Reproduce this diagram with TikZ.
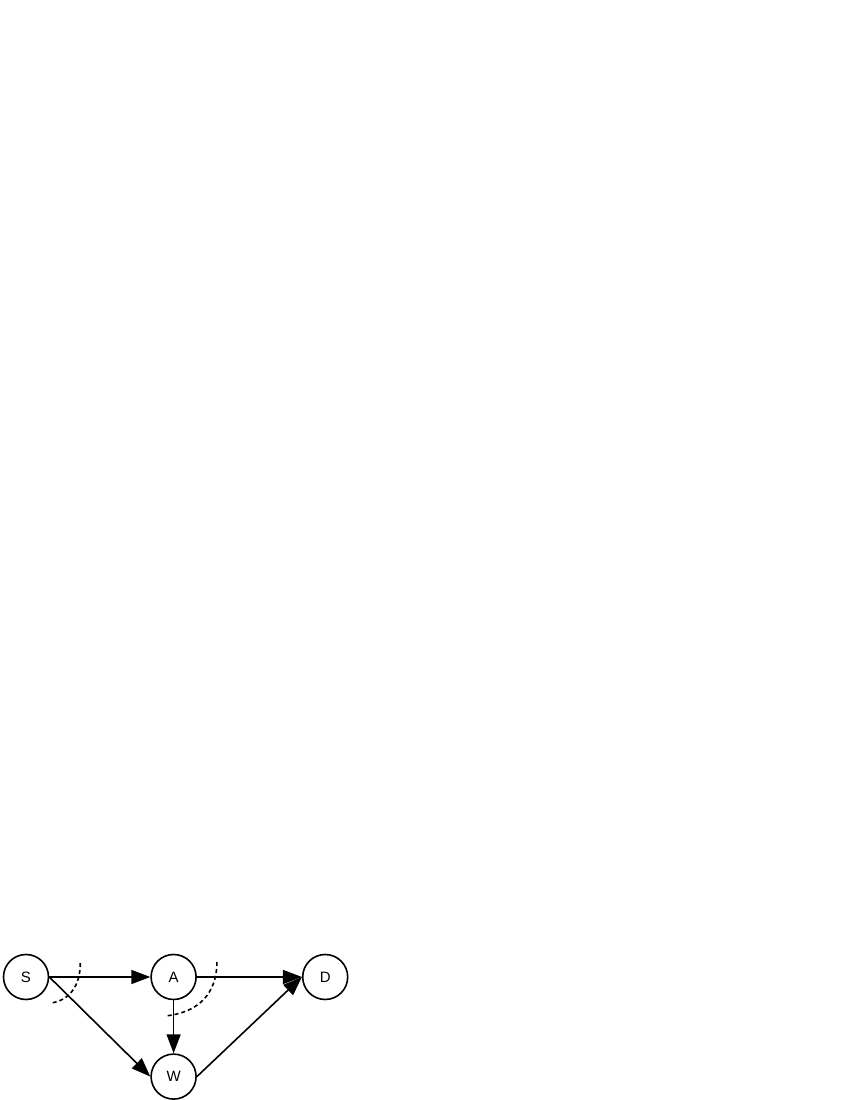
\documentclass[tikz,border=0pt]{standalone}
\usepackage{fontspec}
\setmainfont{Liberation Sans}
\usetikzlibrary{arrows.meta,calc,positioning}
\tikzset{state/.style={draw,circle,line width=1.6pt,minimum size=45pt,inner sep=0pt,font=\fontsize{15}{17}\selectfont}}
\tikzstyle{cut}=[line width=1.6pt, dash pattern=on 4pt off 3pt]

\begin{document}
\begin{tikzpicture}[>={Triangle[length=19pt,width=14pt]}, line width=1.6pt, x=1pt, y=1pt]
\useasboundingbox (0,0) rectangle (850,1100);
\node[state] at (26,123) (S){S};
\node[state][right=101pt of S] (A){A};
\node[state][right=105pt of A] (D){D};
\node[state][below=53pt of A] (W){W};
\draw[->](S.east) -- (A.west);
\draw[->](S.east) -- (W.west);
\draw[->](A.east) -- (D.west);
\draw[->](A.south) -- (W.north);
\draw[->](W.east) -- (D.west);
% dashed cuts
\draw[cut] ($(S.east)+(31,14)$) .. controls ($(S.east)+(31,-8)$) and ($(S.east)+(21,-23)$) .. ($(S.east)+(2,-26)$);
\draw[cut] ($(A.east)+(20,15)$) .. controls ($(A.east)+(20,-18)$) and ($(A.east)+(0,-36)$) .. ($(A.east)+(-32,-39)$);
\end{tikzpicture}
\end{document}
